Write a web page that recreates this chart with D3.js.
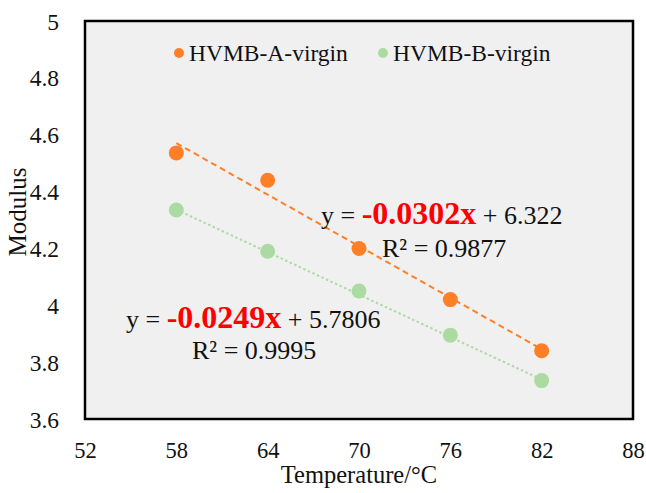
<!DOCTYPE html>
<html>
<head>
<meta charset="utf-8">
<script src="https://cdn.jsdelivr.net/npm/d3@7"></script>
<style>
  body { margin: 0; background: #fff; }
</style>
</head>
<body>
<div id="chart"></div>
<script>
// Temperatures (x) and modulus values
const temps = [58, 64, 70, 76, 82];
const modA = [4.536, 4.44, 4.20, 4.02, 3.84];
const modB = [4.335, 4.19, 4.05, 3.895, 3.735];

// Trendline fits as printed on the chart
const fitA = {slope: -0.0302, intercept: 6.322, r2: "0.9877"};
const fitB = {slope: -0.0249, intercept: 5.7806, r2: "0.9995"};

const seriesNames = ["HVMB-A-virgin", "HVMB-B-virgin"];
const xTicks = [52, 58, 64, 70, 76, 82, 88];
const yTicks = [3.6, 3.8, 4, 4.2, 4.4, 4.6, 4.8, 5];

const orange = "#ff7f27";
const green = "#abdba2";
const serif = "Liberation Serif";

const W = 646, H = 493;
const margin = {top: 21, right: 13, bottom: 74, left: 85};
const width = W - margin.left - margin.right,
  height = H - margin.top - margin.bottom;

const svg = d3.select("#chart").append("svg")
  .attr("width", W)
  .attr("height", H)
  .attr("font-family", serif);

const g = svg.append("g")
  .attr("transform", `translate(${margin.left},${margin.top})`);

const x = d3.scaleLinear().domain([52, 88]).range([0, width]);
const y = d3.scaleLinear().domain([3.6, 5]).range([height, 0]);

// plot background
g.append("rect")
  .attr("width", width)
  .attr("height", height)
  .attr("fill", "#f0f0f0");

// x axis labels
const xAxis = g.append("g")
  .attr("transform", `translate(0,${height})`)
  .call(d3.axisBottom(x).tickValues(xTicks).tickSize(0).tickFormat(d3.format("d")));
xAxis.attr("font-family", serif).attr("font-size", 22.5);
xAxis.select(".domain").remove();
xAxis.selectAll("text")
  .attr("y", 39)
  .attr("dy", "0")
  .attr("fill", "#111");

// y axis labels
const yAxis = g.append("g")
  .call(d3.axisLeft(y).tickValues(yTicks).tickSize(0).tickFormat(d => +d.toFixed(1)));
yAxis.attr("font-family", serif).attr("font-size", 23.5);
yAxis.select(".domain").remove();
yAxis.selectAll("text")
  .attr("x", -26)
  .attr("dy", "0.34em")
  .attr("fill", "#111");

// trendlines
function trend(fit) {
  return temps.map(t => ({x: t, y: fit.slope * t + fit.intercept}));
}
const line = d3.line().x(d => x(d.x)).y(d => y(d.y));

g.append("path")
  .datum([trend(fitB)[0], trend(fitB)[temps.length - 1]])
  .attr("d", line)
  .attr("fill", "none")
  .attr("stroke", green)
  .attr("stroke-width", 2)
  .attr("stroke-dasharray", "2.5,2.5");

g.append("path")
  .datum([trend(fitA)[0], trend(fitA)[temps.length - 1]])
  .attr("d", line)
  .attr("fill", "none")
  .attr("stroke", orange)
  .attr("stroke-width", 2)
  .attr("stroke-dasharray", "6,4");

// points
g.selectAll(".ptB")
  .data(temps)
  .join("circle")
  .attr("class", "ptB")
  .attr("cx", d => x(d))
  .attr("cy", (d, i) => y(modB[i]))
  .attr("r", 7.5)
  .attr("fill", green);

g.selectAll(".ptA")
  .data(temps)
  .join("circle")
  .attr("class", "ptA")
  .attr("cx", d => x(d))
  .attr("cy", (d, i) => y(modA[i]))
  .attr("r", 7.5)
  .attr("fill", orange);

// plot border
g.append("rect")
  .attr("width", width)
  .attr("height", height)
  .attr("fill", "none")
  .attr("stroke", "#000")
  .attr("stroke-width", 2.5);

// legend
const legend = svg.append("g");
const legendPos = [179, 383];
seriesNames.forEach((name, i) => {
  legend.append("circle")
    .attr("cx", legendPos[i])
    .attr("cy", 53)
    .attr("r", 5)
    .attr("fill", i === 0 ? orange : green);
  legend.append("text")
    .attr("x", legendPos[i] + 10)
    .attr("y", 61)
    .attr("font-size", 23.5)
    .attr("fill", "#111")
    .text(name);
});

// equations
function equation(fit, x0, y0, rx, ry) {
  const t = svg.append("text")
    .attr("x", x0)
    .attr("y", y0)
    .attr("font-size", 26)
    .attr("fill", "#111");
  t.append("tspan").text("y = ");
  t.append("tspan")
    .attr("fill", "#ff0000")
    .attr("font-weight", "bold")
    .attr("font-size", 32)
    .text(fit.slope.toFixed(4) + "x");
  t.append("tspan").text(" + " + fit.intercept);
  svg.append("text")
    .attr("x", rx)
    .attr("y", ry)
    .attr("font-size", 26)
    .attr("fill", "#111")
    .text("R² = " + fit.r2);
}
equation(fitA, 321, 224, 382, 257);
equation(fitB, 126, 328, 192, 359);

// axis titles
svg.append("text")
  .attr("x", margin.left + width / 2)
  .attr("y", 483)
  .attr("text-anchor", "middle")
  .attr("font-size", 24.5)
  .attr("fill", "#111")
  .text("Temperature/°C");

svg.append("text")
  .attr("transform", "translate(26,212) rotate(-90)")
  .attr("text-anchor", "middle")
  .attr("font-size", 25)
  .attr("fill", "#111")
  .text("Modulus");
</script>
</body>
</html>
